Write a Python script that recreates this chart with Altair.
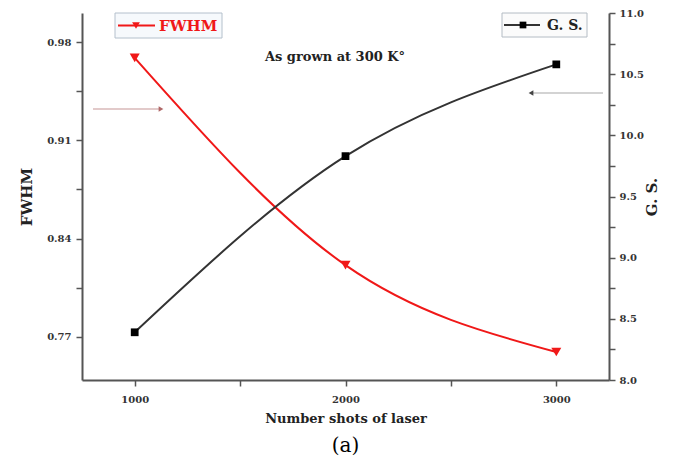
import altair as alt
import pandas as pd

# ---- data ----
shots = [1000, 2000, 3000]
fwhm = [0.969, 0.821, 0.759]
gs = [8.39, 9.83, 10.58]

x_ticks = [1000, 1500, 2000, 2500, 3000]
fwhm_ticks = [0.77, 0.805, 0.84, 0.875, 0.91, 0.945, 0.98]
gs_ticks = [8.0, 8.25, 8.5, 8.75, 9.0, 9.25, 9.5, 9.75, 10.0, 10.25, 10.5, 10.75, 11.0]

df = pd.DataFrame({"shots": shots, "fwhm": fwhm, "gs": gs})
deco_df = pd.DataFrame({"k": [0]})

W, H = 527, 367
FONT = "DejaVu Serif"
RED = "#f01818"
DARK = "#333333"
AXC = "#555555"

axis_common = dict(
    domainColor=AXC, domainWidth=2, tickColor=AXC, tickWidth=1.5, tickSize=6,
    labelFont=FONT, labelFontWeight="bold", labelFontSize=10, labelColor="#333",
    titleFont=FONT, titleFontWeight="bold", titleColor="#222", grid=False,
)

x_enc = alt.X(
    "shots:Q",
    scale=alt.Scale(domain=[750, 3250], nice=False, zero=False),
    axis=alt.Axis(
        values=x_ticks,
        labelExpr="datum.value % 1000 == 0 ? format(datum.value, 'd') : ''",
        title="Number shots of laser", titleFontSize=13, labelPadding=8, titlePadding=8,
        **axis_common,
    ),
)

y_fwhm = alt.Y(
    "fwhm:Q",
    scale=alt.Scale(domain=[0.739, 1.001], nice=False, zero=False),
    axis=alt.Axis(
        orient="left", values=fwhm_ticks,
        labelExpr="abs(datum.value*100 - round(datum.value*100)) < 0.01 ? format(datum.value, '.2f') : ''",
        title="FWHM", titleFontSize=15, labelPadding=5, titlePadding=12,
        **axis_common,
    ),
)

y_gs = alt.Y(
    "gs:Q",
    scale=alt.Scale(domain=[8.0, 11.0], nice=False, zero=False),
    axis=alt.Axis(
        orient="right", values=gs_ticks,
        labelExpr="abs(datum.value*2 - round(datum.value*2)) < 0.01 ? format(datum.value, '.1f') : ''",
        title="G. S.", titleFontSize=15, titleAngle=270, labelPadding=4, titlePadding=16,
        **axis_common,
    ),
)

base = alt.Chart(df)
fwhm_layer = alt.layer(
    base.mark_line(color=RED, strokeWidth=2, interpolate="monotone").encode(x=x_enc, y=y_fwhm),
    base.mark_point(shape="triangle-down", filled=True, size=100, color=RED, opacity=1).encode(x=x_enc, y=y_fwhm),
)
gs_layer = alt.layer(
    base.mark_line(color=DARK, strokeWidth=2, interpolate="monotone").encode(x=x_enc, y=y_gs),
    base.mark_point(shape="square", filled=True, size=60, color="#000", opacity=1).encode(x=x_enc, y=y_gs),
)
main = alt.layer(fwhm_layer, gs_layer).resolve_scale(y="independent")

d = alt.Chart(deco_df)
decos = [
    # FWHM legend box
    d.mark_rect(fill="#f6f9fc", stroke="#b4c0cc", strokeWidth=1).encode(
        x=alt.value(33), x2=alt.value(140), y=alt.value(0), y2=alt.value(25)),
    d.mark_rule(color=RED, strokeWidth=2).encode(x=alt.value(36), x2=alt.value(73), y=alt.value(12.5)),
    d.mark_point(shape="triangle-down", filled=True, size=60, color=RED, opacity=1).encode(
        x=alt.value(54), y=alt.value(12.5)),
    d.mark_text(text="FWHM", align="left", baseline="middle", font=FONT, fontWeight="bold",
                fontSize=15, color=RED).encode(x=alt.value(77), y=alt.value(13)),
    # G. S. legend box
    d.mark_rect(fill="#fbfbfb", stroke="#b4bcc4", strokeWidth=1).encode(
        x=alt.value(420), x2=alt.value(505), y=alt.value(0), y2=alt.value(24)),
    d.mark_rule(color=DARK, strokeWidth=2).encode(x=alt.value(422), x2=alt.value(458), y=alt.value(12)),
    d.mark_point(shape="square", filled=True, size=45, color="#000", opacity=1).encode(
        x=alt.value(441), y=alt.value(12)),
    d.mark_text(text="G. S.", align="left", baseline="middle", font=FONT, fontWeight="bold",
                fontSize=14, color="#222").encode(x=alt.value(465), y=alt.value(12.5)),
    # annotation text
    d.mark_text(text="As grown at 300 K°", align="center", baseline="middle", font=FONT,
                fontWeight="bold", fontSize=13, color="#222").encode(x=alt.value(253), y=alt.value(44)),
    # left arrow (points right)
    d.mark_rule(color="#d9b8b8", strokeWidth=1.5).encode(x=alt.value(11), x2=alt.value(77), y=alt.value(96)),
    d.mark_point(shape="triangle-right", filled=True, size=30, color="#b06868", opacity=1).encode(
        x=alt.value(79), y=alt.value(96)),
    # right arrow (points left)
    d.mark_rule(color="#c4c4c4", strokeWidth=1.5).encode(x=alt.value(451), x2=alt.value(521), y=alt.value(80)),
    d.mark_point(shape="triangle-left", filled=True, size=30, color="#444", opacity=1).encode(
        x=alt.value(449), y=alt.value(80)),
]

chart = alt.layer(main, *decos).properties(
    width=W, height=H,
    autosize=alt.AutoSizeParams(type="none"),
    padding={"left": 74, "top": 5, "right": 60, "bottom": 85},
    title=alt.TitleParams(text="(a)", orient="bottom", font=FONT, fontSize=20,
                          fontWeight="normal", color="#000", offset=11, anchor="middle"),
    background="white",
).configure_view(stroke=None)

chart.save("out.html", embed_options={"renderer": "svg", "actions": False})
